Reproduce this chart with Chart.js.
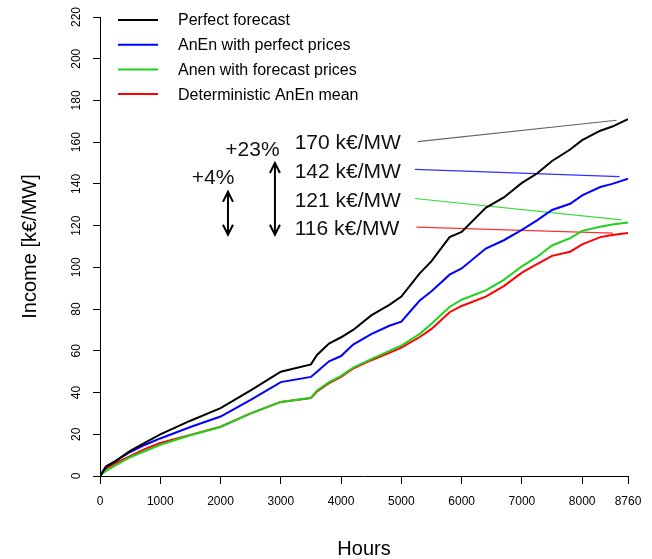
<!DOCTYPE html>
<html>
<head>
<meta charset="utf-8">
<script src="https://cdn.jsdelivr.net/npm/chart.js@4.4.0/dist/chart.umd.min.js"></script>
<style>
  html, body { margin: 0; padding: 0; background: #fff; }
</style>
</head>
<body>
<canvas id="chart" width="652" height="559"></canvas>
<script>
// values (cumulative income, k€/MW)
const hours = [0, 100, 250, 500, 750, 1000, 1500, 2000, 2500, 3000, 3500, 3600, 3800, 4000, 4200, 4500, 4800,
  5000, 5300, 5500, 5800, 6000, 6400, 6700, 7000, 7250, 7500, 7800, 8000, 8300, 8500, 8760];
const perfectForecast = [0, 4.5, 7, 12, 16, 20, 26.5, 32.5, 41, 50, 53.5, 58, 63.5, 66.5, 70, 77, 82,
  86, 97, 103, 114.5, 117, 128.5, 133.5, 140.5, 145, 151, 156.5, 161, 165.5, 167.5, 171];
const anenPerfectPrices = [0, 4.5, 7, 11.5, 15, 18, 23.5, 28.5, 36.5, 45, 47.5, 50, 55, 57.5, 63, 68, 72,
  74, 84, 88.5, 96.5, 99.5, 109, 113, 118, 122.5, 127.5, 130.5, 134.5, 138.5, 140, 142.5];
const anenForecastPrices = [0, 2.5, 5, 9, 12, 15, 19.5, 23.5, 30, 35.5, 37.5, 41, 45, 48, 52, 56, 60,
  62.5, 68, 73, 81, 84.5, 89, 94, 100.5, 105, 110.5, 114, 117.5, 119.5, 120.5, 121.5];
const deterministicMean = [0, 3.5, 6, 9.5, 13, 15.8, 19.7, 23.6, 30, 35.5, 37.3, 40.5, 44.5, 47.5, 51.5, 55.5, 59,
  61.5, 66.5, 70.5, 78.5, 81.5, 86, 91, 97.5, 101.5, 105.5, 107.5, 111, 114.5, 115.5, 116.5];

const seriesNames = ['Perfect forecast', 'AnEn with perfect prices', 'Anen with forecast prices', 'Deterministic AnEn mean'];
const seriesColors = ['#000000', '#0000ff', '#1ed21e', '#ff0000'];
const xTicks = [0, 1000, 2000, 3000, 4000, 5000, 6000, 7000, 8000, 8760];
const yTicks = [0, 20, 40, 60, 80, 100, 120, 140, 160, 180, 200, 220];

// annotations (data coordinates)
const endLabels = ['170 k€/MW', '142 k€/MW', '121 k€/MW', '116 k€/MW'];
const endLabelY = [160, 146, 132.4, 119];
const endLabelX = 3230;
const connectors = [[5270, 160.3, 8570, 170.5], [5225, 147, 8620, 143.5], [5225, 133, 8650, 122.8], [5250, 119.3, 8510, 116.4]];
const connectorColors = ['#666666', '#3030ff', '#33dd33', '#ff3030'];

const series = [perfectForecast, anenPerfectPrices, anenForecastPrices, deterministicMean];
const datasets = series.map((vals, i) => ({
  label: seriesNames[i],
  data: hours.map((h, j) => ({ x: h, y: vals[j] })),
  borderColor: seriesColors[i],
  borderWidth: 2,
  pointRadius: 0,
  tension: 0,
  order: 1
}));
connectors.forEach((c, i) => {
  datasets.push({
    label: 'conn' + i,
    data: [{ x: c[0], y: c[1] }, { x: c[2], y: c[3] }],
    borderColor: connectorColors[i],
    borderWidth: 1.2,
    pointRadius: 0,
    order: 2
  });
});

const FONT = 'Arial, "Liberation Sans", sans-serif';

const extras = {
  id: 'extras',
  afterDraw(chart) {
    const ctx = chart.ctx;
    const xs = chart.scales.x, ys = chart.scales.y;
    const area = chart.chartArea;
    ctx.save();

    // y tick labels, rotated like R
    ctx.font = '12px ' + FONT;
    ctx.fillStyle = '#000';
    ctx.textAlign = 'center';
    ctx.textBaseline = 'middle';
    ys.ticks.forEach(t => {
      ctx.save();
      ctx.translate(ys.right - 23, ys.getPixelForValue(t.value));
      ctx.rotate(-Math.PI / 2);
      ctx.fillText(String(t.value), 0, 0);
      ctx.restore();
    });

    // legend
    ctx.font = '16px ' + FONT;
    ctx.textAlign = 'left';
    seriesNames.forEach((name, i) => {
      const y = area.top + 3 + i * 24.7;
      ctx.strokeStyle = seriesColors[i];
      ctx.lineWidth = 2;
      ctx.beginPath();
      ctx.moveTo(area.left + 18, y);
      ctx.lineTo(area.left + 58, y);
      ctx.stroke();
      ctx.fillStyle = '#000';
      ctx.fillText(name, area.left + 78, y + 1);
    });

    // end value labels
    ctx.font = '21px ' + FONT;
    ctx.fillStyle = '#111';
    endLabels.forEach((txt, i) => {
      ctx.fillText(txt, xs.getPixelForValue(endLabelX), ys.getPixelForValue(endLabelY[i]) + 1);
    });
    ctx.textAlign = 'center';
    ctx.fillText('+23%', xs.getPixelForValue(2530), ys.getPixelForValue(156.4) + 1);
    ctx.fillText('+4%', xs.getPixelForValue(1875), ys.getPixelForValue(143.4) + 1);

    // double arrows
    function arrow(h, v1, v2) {
      const x = xs.getPixelForValue(h);
      const y1 = ys.getPixelForValue(v1), y2 = ys.getPixelForValue(v2);
      ctx.strokeStyle = '#000';
      ctx.lineWidth = 2;
      ctx.beginPath();
      ctx.moveTo(x, y1); ctx.lineTo(x, y2);
      ctx.moveTo(x - 5, y1 + 10); ctx.lineTo(x, y1); ctx.lineTo(x + 5, y1 + 10);
      ctx.moveTo(x - 5, y2 - 10); ctx.lineTo(x, y2); ctx.lineTo(x + 5, y2 - 10);
      ctx.stroke();
    }
    arrow(2123, 136.2, 115.6);
    arrow(2902, 150, 115.6);

    ctx.restore();
  }
};

new Chart(document.getElementById('chart'), {
  type: 'line',
  data: { datasets: datasets },
  options: {
    responsive: false,
    animation: false,
    layout: { padding: { top: 17, right: 24, left: 0, bottom: 0 } },
    plugins: {
      legend: { display: false },
      tooltip: { enabled: false }
    },
    scales: {
      x: {
        type: 'linear',
        min: 0,
        max: 8760,
        afterBuildTicks: s => { s.ticks = xTicks.map(v => ({ value: v })); },
        afterFit: s => { s.height = 83; },
        grid: { drawOnChartArea: false, drawTicks: true, tickLength: 8, color: '#000' },
        border: { display: true, color: '#000', width: 1 },
        ticks: {
          autoSkip: false, maxRotation: 0, minRotation: 0, padding: 10,
          color: '#000', font: { family: FONT, size: 12 },
          callback: v => String(v)
        },
        title: {
          display: true, text: 'Hours', color: '#000',
          font: { family: FONT, size: 20 }, padding: { top: 0, bottom: -2 }
        }
      },
      y: {
        type: 'linear',
        min: 0,
        max: 220,
        afterBuildTicks: s => { s.ticks = yTicks.map(v => ({ value: v })); },
        afterFit: s => { s.width = 100; },
        grid: { drawOnChartArea: false, drawTicks: true, tickLength: 7, color: '#000' },
        border: { display: true, color: '#000', width: 1 },
        ticks: { display: false },
        title: {
          display: true, text: 'Income [k€/MW]', color: '#000',
          font: { family: FONT, size: 20 }, padding: { top: 18, bottom: 0 }
        }
      }
    }
  },
  plugins: [extras]
});
</script>
</body>
</html>
